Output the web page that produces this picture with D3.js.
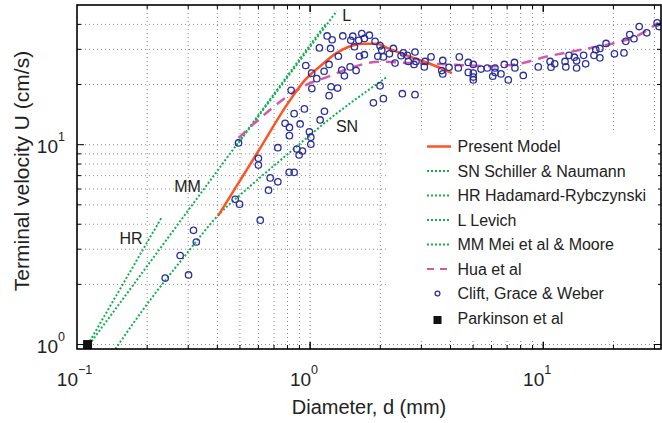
<!DOCTYPE html>
<html lang="en">
<head>
<meta charset="UTF-8">
<title>Terminal velocity vs bubble diameter</title>
<script src="https://cdn.jsdelivr.net/npm/d3@7"></script>
<style>
  body { margin: 0; background: #fff; }
  svg { display: block; font-family: "Liberation Sans", Arial, sans-serif; }
  .grid line { stroke: #8c8c8c; stroke-width: 1; stroke-dasharray: 1,3; }
</style>
</head>
<body>
<div id="chart"></div>
<script>
// values: [diameter (mm), terminal velocity (cm/s)]
const presentModel = [[0.404,4.43],[0.60,9.3],[0.80,16.0],[0.952,21.1],
  [1.104,24.7],[1.301,28.8],[1.484,31.1],[1.692,32.0],[1.932,32.0],[2.138,30.5],[2.772,27.2],[3.27,25.4],[4.06,22.8]];
const schillerNaumann = [[0.146,0.95],[0.206,1.67],[0.291,2.79],[0.403,4.43],[0.553,6.2],[0.821,9.19],
  [1.218,13.5],[2.133,21.8]];
const hadamardRybczynski = [[0.1113,1.0],[0.2313,4.35]];
const levich = [[0.482,9.85],[1.301,46.6]];
const meiMoore = [[0.1129,1.0],[1.16,39.9]];
const huaEtAl = [[0.493,10.8],[0.781,17.1],[0.936,19.6],[1.218,22.1],[1.484,24.2],[1.995,26.0],
  [2.683,25.6],[3.98,25.2],[5.91,24.7],[7.56,25.2],[10.5,27.7],[14.6,29.9],[20.3,32.3],[25.1,34.9],[31.1,40.7]];
const cliftGraceWeber = [[0.239,2.15],[0.277,2.79],[0.301,2.23],[0.316,3.73],[0.325,3.26],[0.477,5.33],
  [0.498,5.04],[0.611,4.19],[0.493,10.2],[0.600,8.55],[0.600,7.91],[0.663,5.92],[0.674,6.82],[0.727,6.52],
  [0.727,9.66],[0.781,12.8],[0.815,12.2],[0.815,11.1],[0.813,7.27],[0.854,7.27],[0.854,14.3],[0.877,9.51],
  [0.897,8.88],[0.906,12.7],[0.927,9.30],[0.945,15.1],[0.993,11.6],[1.007,10.9],[1.007,10.05],[1.104,13.3],
  [1.152,14.7],[0.829,18.7],[1.017,19.1],[1.206,17.6],[0.958,24.9],[1.015,22.8],[1.068,21.4],[1.148,23.3],
  [1.096,30.5],[1.206,25.2],[1.183,35.0],[1.243,33.5],[1.224,30.3],[1.322,27.7],[1.381,35.0],[1.367,23.6],
  [1.403,22.1],[1.230,19.5],[1.312,19.2],[1.494,33.3],[1.524,34.9],[1.484,24.5],[1.548,30.9],[1.575,23.5],
  [1.627,27.7],[1.617,33.3],[1.666,36.0],[1.709,34.0],[1.709,28.2],[1.796,35.3],[1.899,32.9],[1.951,27.7],
  [1.868,16.2],[1.995,31.3],[2.029,29.7],[2.062,27.5],[2.188,28.5],[2.275,30.3],[1.995,19.7],[2.062,17.0],
  [2.314,25.6],[2.455,27.9],[2.512,28.8],[2.612,28.0],[2.638,26.1],[2.818,29.1],[2.791,25.2],[2.847,26.1],
  [2.487,18.0],[2.818,17.8],[3.111,26.1],[3.090,24.5],[3.302,27.5],[3.706,26.4],[3.943,24.4],[3.669,23.5],
  [3.706,22.6],[4.365,27.5],[4.322,24.2],[4.770,25.8],[5.012,25.2],[4.770,23.0],[5.012,22.8],[5.012,21.8],
  [5.012,21.1],[5.408,23.9],[5.754,24.2],[6.209,24.2],[6.209,23.0],[6.070,22.0],[6.588,22.6],[6.805,25.2],
  [7.527,25.8],[7.563,24.2],[7.079,21.1],[8.210,22.2],[9.52,24.5],[10.7,26.1],[10.8,24.4],[11.2,25.4],
  [12.4,26.1],[12.5,24.5],[12.9,28.0],[13.6,27.4],[13.9,26.3],[13.9,24.2],[14.9,28.0],[15.2,25.4],
  [16.5,28.0],[16.8,29.9],[17.5,27.2],[17.5,30.3],[18.6,32.1],[20.2,28.5],[22.2,28.8],[22.6,32.9],
  [23.5,35.6],[24.5,33.9],[25.8,39.0],[27.8,36.3],[30.8,40.7],[31.4,39.0]];
const parkinson = [[0.111,1.0]];

const lineLabels = [
  {text: "L", d: 1.435, u: 44.6},
  {text: "SN", d: 1.44, u: 12.4},
  {text: "MM", d: 0.298, u: 6.21},
  {text: "HR", d: 0.1705, u: 3.41}
];
const legendItems = [
  {label: "Present Model", kind: "solid"},
  {label: "SN Schiller & Naumann", kind: "dot"},
  {label: "HR Hadamard-Rybczynski", kind: "dot"},
  {label: "L Levich", kind: "dot"},
  {label: "MM Mei et al & Moore", kind: "dot"},
  {label: "Hua et al", kind: "dash"},
  {label: "Clift, Grace & Weber", kind: "circle"},
  {label: "Parkinson et al", kind: "square"}
];
const xTicks = [0.1, 1, 10];
const yTicks = [1, 10];

const width = 662, height = 423;
const plotL = 77, plotR = 661, plotT = 5, plotB = 349;
const red = "#ff5322", green = "#0fb14e", pink = "#d25aa8", blue = "#2a2f9c";

const svg = d3.select("#chart").append("svg")
  .attr("width", width)
  .attr("height", height);

const x = d3.scaleLog().domain([0.1, 32]).range([plotL, plotR]);
const y = d3.scaleLog().domain([0.95, 50]).range([plotB, plotT]);

// minor + major values for grid / ticks
const xMinor = [];
[0.1, 1, 10].forEach(dec => d3.range(1, 10).forEach(k => {
  const v = dec * k;
  if (v > 0.1 && v < 32) xMinor.push(v);
}));
const yMinor = [];
[1, 10].forEach(dec => d3.range(1, 10).forEach(k => {
  const v = dec * k;
  if (v >= 1 && v < 50) yMinor.push(v);
}));

const grid = svg.append("g").attr("class", "grid");
grid.selectAll(".gx").data(xMinor).enter().append("line")
  .attr("x1", d => x(d)).attr("x2", d => x(d))
  .attr("y1", plotT).attr("y2", plotB);
grid.selectAll(".gy").data(yMinor).enter().append("line")
  .attr("x1", plotL).attr("x2", plotR)
  .attr("y1", d => y(d)).attr("y2", d => y(d));

svg.append("clipPath").attr("id", "plot-clip")
  .append("rect").attr("x", plotL).attr("y", plotT)
  .attr("width", plotR - plotL).attr("height", plotB - plotT);

const plot = svg.append("g").attr("clip-path", "url(#plot-clip)");
const line = d3.line().x(d => x(d[0])).y(d => y(d[1])).curve(d3.curveMonotoneX);

// legend background hides the grid, like the original
const legendBox = {x: 386, y: 133, w: 272, h: 206};

[hadamardRybczynski, meiMoore, schillerNaumann, levich].forEach(series => {
  plot.append("path")
    .attr("d", line(series))
    .attr("fill", "none")
    .attr("stroke", green)
    .attr("stroke-width", 2)
    .attr("stroke-dasharray", "2,2");
});

plot.append("path")
  .attr("d", line(huaEtAl))
  .attr("fill", "none")
  .attr("stroke", pink)
  .attr("stroke-width", 2.5)
  .attr("stroke-dasharray", "10,7");

plot.append("path")
  .attr("d", line(presentModel))
  .attr("fill", "none")
  .attr("stroke", red)
  .attr("stroke-width", 2.5);

plot.selectAll(".cgw").data(cliftGraceWeber).enter().append("circle")
  .attr("cx", d => x(d[0]))
  .attr("cy", d => y(d[1]))
  .attr("r", 3.2)
  .attr("fill", "none")
  .attr("stroke", blue)
  .attr("stroke-width", 1.3);

plot.selectAll(".pk").data(parkinson).enter().append("rect")
  .attr("x", d => x(d[0]) - 4.5)
  .attr("y", d => y(d[1]) - 4.5)
  .attr("width", 9).attr("height", 9)
  .attr("fill", "#111");

svg.selectAll(".linelabel").data(lineLabels).enter().append("text")
  .attr("x", d => x(d.d))
  .attr("y", d => y(d.u))
  .attr("text-anchor", "middle")
  .attr("dy", "0.35em")
  .attr("font-size", 16)
  .attr("fill", "#222")
  .text(d => d.text);

// frame + inward ticks on all four sides
svg.append("rect")
  .attr("x", plotL).attr("y", plotT)
  .attr("width", plotR - plotL).attr("height", plotB - plotT)
  .attr("fill", "none").attr("stroke", "#000").attr("stroke-width", 1.6);

const allX = xTicks.concat(xMinor).filter(v => v > 0.1);
svg.selectAll(".tx").data(allX).enter().append("path")
  .attr("d", d => {
    const len = xTicks.includes(d) ? 7 : 4;
    return `M${x(d)},${plotB}v${-len}M${x(d)},${plotT}v${len}`;
  })
  .attr("stroke", "#000").attr("stroke-width", 1);
svg.selectAll(".ty").data(yMinor).enter().append("path")
  .attr("d", d => {
    const len = yTicks.includes(d) ? 7 : 4;
    return `M${plotL},${y(d)}h${len}M${plotR},${y(d)}h${-len}`;
  })
  .attr("stroke", "#000").attr("stroke-width", 1);

// tick labels as 10^n
const xl = svg.append("g").attr("fill", "#222");
xTicks.forEach(v => {
  const e = Math.round(Math.log10(v));
  xl.append("text").attr("x", x(v) + 1).attr("y", 386)
    .attr("text-anchor", "end").attr("font-size", 19).text("10");
  xl.append("text").attr("x", x(v) + 1).attr("y", 374)
    .attr("font-size", 12.5).text(e < 0 ? "\u2212" + (-e) : e);
});
yTicks.forEach(v => {
  const e = Math.round(Math.log10(v));
  xl.append("text").attr("x", 58).attr("y", y(v) + 8)
    .attr("text-anchor", "end").attr("font-size", 19).text("10");
  xl.append("text").attr("x", 58).attr("y", y(v) - 4)
    .attr("font-size", 12.5).text(e);
});

svg.append("text")
  .attr("x", 369).attr("y", 414)
  .attr("text-anchor", "middle")
  .attr("font-size", 20)
  .attr("fill", "#222")
  .text("Diameter, d (mm)");

svg.append("text")
  .attr("transform", "translate(29,171) rotate(-90)")
  .attr("text-anchor", "middle")
  .attr("font-size", 21)
  .attr("fill", "#222")
  .text("Terminal velocity U (cm/s)");

// legend
const legend = svg.append("g");
legend.append("rect")
  .attr("x", legendBox.x).attr("y", legendBox.y)
  .attr("width", legendBox.w).attr("height", legendBox.h)
  .attr("fill", "#fff");

const rows = legend.selectAll(".row").data(legendItems).enter().append("g")
  .attr("transform", (d, i) => `translate(0,${146.5 + i * 24.5})`);

rows.each(function (d) {
  const g = d3.select(this);
  if (d.kind === "solid" || d.kind === "dot" || d.kind === "dash") {
    g.append("line").attr("x1", 427).attr("x2", d.kind === "dash" ? 450 : 451)
      .attr("y1", 0).attr("y2", 0)
      .attr("stroke", d.kind === "solid" ? red : d.kind === "dot" ? green : pink)
      .attr("stroke-width", d.kind === "solid" ? 2.5 : 2)
      .attr("stroke-dasharray", d.kind === "dot" ? "2,2" : d.kind === "dash" ? "7,6" : null);
  } else if (d.kind === "circle") {
    g.append("circle").attr("cx", 437.5).attr("cy", 0).attr("r", 2.4)
      .attr("fill", "none").attr("stroke", blue).attr("stroke-width", 1.3);
  } else {
    g.append("rect").attr("x", 433.5).attr("y", -2).attr("width", 8).attr("height", 8)
      .attr("fill", "#111");
  }
  g.append("text").attr("x", 457.5).attr("y", 0).attr("dy", "0.35em")
    .attr("font-size", 16).attr("fill", "#222").text(d.label);
});
</script>
</body>
</html>
